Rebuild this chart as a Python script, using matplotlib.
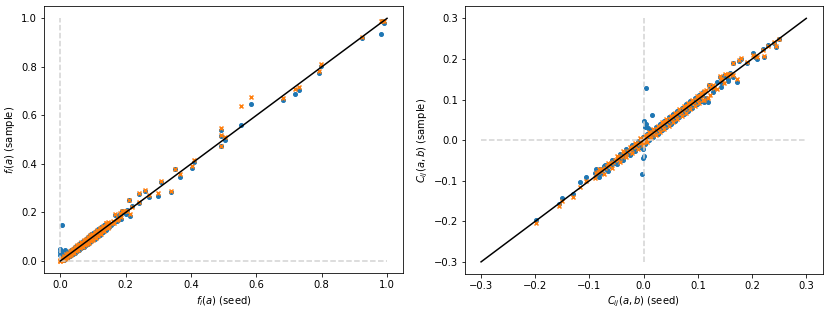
import numpy as np
import matplotlib
matplotlib.use("Agg")
from matplotlib import pyplot as plt

# single-site frequencies: seed value, sample (blue), sample (orange)
f_seed = [0.000, 0.000, 0.000, 0.001, 0.002, 0.003, 0.005, 0.005, 0.006, 0.008,
          0.010, 0.012, 0.015, 0.015, 0.018, 0.020, 0.022, 0.025, 0.027, 0.030,
          0.032, 0.035, 0.037, 0.040, 0.042, 0.045, 0.047, 0.050, 0.052, 0.055,
          0.057, 0.060, 0.062, 0.065, 0.067, 0.070, 0.072, 0.075, 0.077, 0.080,
          0.082, 0.085, 0.087, 0.090, 0.093, 0.095, 0.098, 0.100, 0.103, 0.106,
          0.109, 0.112, 0.115, 0.118, 0.121, 0.124, 0.127, 0.130, 0.133, 0.136,
          0.140, 0.143, 0.145, 0.148, 0.150, 0.155, 0.160, 0.165, 0.168, 0.172,
          0.175, 0.178, 0.182, 0.185, 0.190, 0.195, 0.200, 0.205, 0.210, 0.214,
          0.218, 0.240, 0.240, 0.260, 0.270, 0.300, 0.308, 0.338, 0.352, 0.366,
          0.403, 0.410, 0.492, 0.492, 0.492, 0.503, 0.553, 0.585, 0.682, 0.717,
          0.730, 0.792, 0.797, 0.922, 0.980, 0.985, 0.992]
f_blue = [0.050, 0.035, 0.025, 0.018, 0.040, 0.010, 0.150, 0.030, 0.008, 0.005,
          0.014, 0.010, 0.045, 0.012, 0.020, 0.016, 0.024, 0.020, 0.030, 0.026,
          0.035, 0.030, 0.042, 0.036, 0.038, 0.050, 0.041, 0.046, 0.056, 0.049,
          0.060, 0.055, 0.066, 0.059, 0.072, 0.064, 0.077, 0.070, 0.082, 0.074,
          0.088, 0.079, 0.092, 0.084, 0.098, 0.089, 0.104, 0.094, 0.110, 0.099,
          0.116, 0.105, 0.121, 0.110, 0.128, 0.117, 0.135, 0.122, 0.140, 0.128,
          0.150, 0.135, 0.158, 0.143, 0.140, 0.150, 0.155, 0.160, 0.190, 0.165,
          0.180, 0.170, 0.195, 0.175, 0.205, 0.200, 0.195, 0.210, 0.250, 0.185,
          0.225, 0.275, 0.240, 0.289, 0.262, 0.267, 0.324, 0.286, 0.379, 0.348,
          0.383, 0.408, 0.540, 0.517, 0.472, 0.500, 0.559, 0.649, 0.663, 0.689,
          0.705, 0.774, 0.803, 0.920, 0.935, 0.988, 0.982]
f_orange = [0.002, 0.001, 0.000, 0.003, 0.004, 0.005, 0.006, 0.004, 0.009, 0.010,
            0.012, 0.015, 0.017, 0.013, 0.022, 0.019, 0.026, 0.028, 0.025, 0.034,
            0.038, 0.033, 0.044, 0.041, 0.048, 0.047, 0.052, 0.057, 0.050, 0.061,
            0.058, 0.066, 0.064, 0.070, 0.071, 0.076, 0.075, 0.080, 0.079, 0.086,
            0.085, 0.092, 0.090, 0.097, 0.095, 0.101, 0.103, 0.108, 0.106, 0.113,
            0.114, 0.119, 0.118, 0.125, 0.126, 0.132, 0.134, 0.128, 0.138, 0.142,
            0.155, 0.148, 0.160, 0.152, 0.145, 0.158, 0.165, 0.158, 0.192, 0.170,
            0.178, 0.175, 0.198, 0.180, 0.207, 0.205, 0.205, 0.208, 0.252, 0.195,
            0.222, 0.280, 0.243, 0.292, 0.270, 0.282, 0.330, 0.290, 0.380, 0.360,
            0.390, 0.415, 0.548, 0.518, 0.475, 0.510, 0.638, 0.675, 0.670, 0.710,
            0.715, 0.785, 0.812, 0.925, 0.988, 0.990, 0.990]

# extra points of the dense low band
f_seed_band = [0.004, 0.007, 0.011, 0.014, 0.017, 0.021, 0.024, 0.028, 0.031, 0.034,
               0.038, 0.041, 0.044, 0.048, 0.051, 0.054, 0.058, 0.061, 0.064, 0.068,
               0.071, 0.074, 0.078, 0.081, 0.084, 0.088, 0.091, 0.094, 0.098, 0.101,
               0.105, 0.108, 0.112, 0.116, 0.120, 0.125, 0.130, 0.135, 0.141, 0.147]
f_blue_band = [0.002, 0.015, 0.006, 0.022, 0.011, 0.030, 0.016, 0.038, 0.022, 0.044,
               0.029, 0.052, 0.034, 0.060, 0.041, 0.067, 0.047, 0.074, 0.052, 0.082,
               0.059, 0.088, 0.066, 0.095, 0.072, 0.102, 0.078, 0.110, 0.085, 0.117,
               0.092, 0.124, 0.098, 0.132, 0.106, 0.140, 0.118, 0.148, 0.128, 0.158]
f_orange_band = [0.012, 0.003, 0.020, 0.008, 0.027, 0.014, 0.034, 0.020, 0.042, 0.026,
                 0.050, 0.032, 0.058, 0.040, 0.065, 0.045, 0.072, 0.052, 0.078, 0.058,
                 0.085, 0.064, 0.092, 0.070, 0.099, 0.076, 0.106, 0.082, 0.113, 0.088,
                 0.120, 0.095, 0.128, 0.104, 0.137, 0.112, 0.146, 0.124, 0.156, 0.135]

# pair correlations: seed value, sample (blue), sample (orange)
c_seed = [-0.199, -0.157, -0.151, -0.130, -0.118, -0.107, -0.088, -0.085, -0.080, -0.076,
          -0.072, -0.068, -0.064, -0.060, -0.056, -0.052, -0.048, -0.044, -0.040, -0.036,
          -0.032, -0.028, -0.024, -0.020, -0.016, -0.012, -0.008, -0.004, -0.003, -0.002,
          -0.001, 0.000, 0.000, 0.002, 0.004, 0.005, 0.008, 0.010, 0.015, 0.012,
          0.016, 0.020, 0.024, 0.028, 0.032, 0.036, 0.040, 0.044, 0.048, 0.052,
          0.056, 0.060, 0.064, 0.068, 0.072, 0.076, 0.080, 0.084, 0.088, 0.092,
          0.096, 0.100, 0.104, 0.108, 0.112, 0.118, 0.112, 0.120, 0.125, 0.130,
          0.140, 0.145, 0.150, 0.155, 0.160, 0.165, 0.165, 0.172, 0.175, 0.180,
          0.190, 0.201, 0.205, 0.210, 0.220, 0.222, 0.230, 0.240, 0.245, 0.250]
c_blue = [-0.198, -0.157, -0.142, -0.133, -0.102, -0.092, -0.072, -0.085, -0.070, -0.080,
          -0.062, -0.073, -0.058, -0.065, -0.050, -0.057, -0.043, -0.050, -0.036, -0.041,
          -0.028, -0.033, -0.020, -0.025, -0.013, -0.017, -0.006, -0.008, -0.083, -0.021,
          -0.044, -0.038, 0.047, 0.033, 0.128, 0.040, 0.030, 0.006, 0.063, 0.018,
          0.012, 0.024, 0.018, 0.032, 0.026, 0.040, 0.034, 0.048, 0.042, 0.056,
          0.050, 0.064, 0.058, 0.072, 0.066, 0.080, 0.074, 0.088, 0.082, 0.096,
          0.090, 0.104, 0.098, 0.112, 0.094, 0.095, 0.118, 0.135, 0.130, 0.126,
          0.155, 0.140, 0.160, 0.150, 0.165, 0.155, 0.189, 0.143, 0.195, 0.200,
          0.190, 0.214, 0.205, 0.200, 0.225, 0.206, 0.235, 0.240, 0.230, 0.250]
c_orange = [-0.203, -0.163, -0.150, -0.140, -0.115, -0.100, -0.080, -0.078, -0.075, -0.072,
            -0.068, -0.064, -0.062, -0.056, -0.054, -0.050, -0.046, -0.041, -0.039, -0.033,
            -0.031, -0.026, -0.023, -0.018, -0.015, -0.010, -0.007, -0.002, -0.005, -0.003,
            -0.002, 0.000, 0.002, 0.003, 0.005, 0.006, 0.009, 0.012, 0.017, 0.014,
            0.018, 0.022, 0.027, 0.030, 0.035, 0.038, 0.044, 0.046, 0.052, 0.054,
            0.060, 0.062, 0.068, 0.070, 0.076, 0.078, 0.084, 0.086, 0.092, 0.094,
            0.100, 0.102, 0.108, 0.110, 0.100, 0.104, 0.120, 0.136, 0.132, 0.128,
            0.157, 0.148, 0.162, 0.157, 0.163, 0.160, 0.190, 0.150, 0.197, 0.202,
            0.193, 0.210, 0.207, 0.204, 0.223, 0.208, 0.233, 0.242, 0.232, 0.248]

# extra points of the dense central band
c_seed_band = [-0.090, -0.082, -0.074, -0.066, -0.058, -0.050, -0.044, -0.038, -0.032, -0.026,
               -0.021, -0.016, -0.011, -0.006, -0.002, 0.002, 0.006, 0.010, 0.014, 0.018,
               0.022, 0.026, 0.030, 0.034, 0.038, 0.042, 0.046, 0.050, 0.054, 0.058,
               0.062, 0.066, 0.070, 0.074, 0.078, 0.082, 0.086, 0.090, 0.094, 0.098,
               0.102, 0.106, 0.110, 0.115, 0.122, 0.128, 0.135, 0.142, 0.148, 0.155]
c_blue_band = [-0.080, -0.090, -0.064, -0.076, -0.048, -0.060, -0.034, -0.048, -0.022, -0.036,
               -0.012, -0.026, -0.002, -0.016, 0.008, -0.010, 0.016, 0.000, 0.024, 0.008,
               0.032, 0.016, 0.040, 0.024, 0.048, 0.032, 0.056, 0.040, 0.064, 0.048,
               0.072, 0.056, 0.080, 0.064, 0.088, 0.072, 0.096, 0.080, 0.104, 0.088,
               0.112, 0.096, 0.118, 0.105, 0.130, 0.118, 0.144, 0.132, 0.158, 0.145]
c_orange_band = [-0.094, -0.070, -0.084, -0.056, -0.068, -0.040, -0.054, -0.028, -0.042, -0.016,
                 -0.031, -0.006, -0.021, 0.004, -0.012, 0.012, -0.004, 0.020, 0.004, 0.028,
                 0.012, 0.036, 0.020, 0.044, 0.028, 0.052, 0.036, 0.060, 0.044, 0.068,
                 0.052, 0.076, 0.060, 0.084, 0.068, 0.092, 0.076, 0.100, 0.084, 0.108,
                 0.092, 0.116, 0.100, 0.124, 0.112, 0.136, 0.126, 0.150, 0.140, 0.162]

# figure was drawn at 72 dpi
fig = plt.figure(figsize=(830 / 72, 310 / 72), dpi=72)
ax1 = fig.add_axes([0.053, 0.119, 0.433, 0.861])
ax2 = fig.add_axes([0.560, 0.116, 0.431, 0.864])

# left: frequencies
ax1.plot([0, 0], [0, 1], ls='--', c='lightgray')
ax1.plot([0, 1], [0, 0], ls='--', c='lightgray')
ax1.plot([0, 1], [0, 1], c='k')
ax1.scatter(f_seed + f_seed_band, f_blue + f_blue_band, s=16, c='tab:blue')
ax1.scatter(f_seed + f_seed_band, f_orange + f_orange_band, s=16, c='tab:orange', marker='x')
ax1.set_xlabel(r'$f_i(a)$ (seed)')
ax1.set_ylabel(r'$f_i(a)$ (sample)')

# right: correlations
ax2.plot([0, 0], [-0.3, 0.3], ls='--', c='lightgray')
ax2.plot([-0.3, 0.3], [0, 0], ls='--', c='lightgray')
ax2.plot([-0.3, 0.3], [-0.3, 0.3], c='k')
ax2.scatter(c_seed + c_seed_band, c_blue + c_blue_band, s=16, c='tab:blue')
ax2.scatter(c_seed + c_seed_band, c_orange + c_orange_band, s=16, c='tab:orange', marker='x')
ax2.set_xlabel(r'$C_{ij}(a,b)$ (seed)')
ax2.set_ylabel(r'$C_{ij}(a,b)$ (sample)')

fig.savefig('out.png', dpi=72)
